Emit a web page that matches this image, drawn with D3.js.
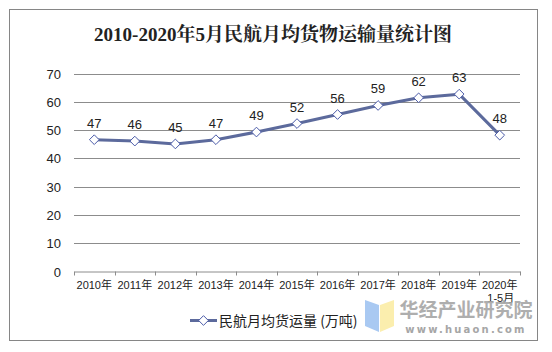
<!DOCTYPE html>
<html><head><meta charset="utf-8">
<script src="https://cdn.jsdelivr.net/npm/d3@7/dist/d3.min.js"></script>
<style>body{margin:0;background:#fff}svg{display:block}</style>
</head><body>
<script>
const categories = ["2010年","2011年","2012年","2013年","2014年","2015年","2016年","2017年","2018年","2019年","2020年\n1-5月"];
const values = [46.6, 46.1, 45.1, 46.6, 49.3, 52.3, 55.5, 58.7, 61.4, 62.7, 48.2];
const labels = ["47","46","45","47","49","52","56","59","62","63","48"];
const yTicks = [0,10,20,30,40,50,60,70];
const title = "2010-2020年5月民航月均货物运输量统计图";
const seriesName = "民航月均货运量 (万吨)";

const W = 552, H = 352;
const svg = d3.select("body").append("svg").attr("width", W).attr("height", H);
svg.append("rect").attr("x", 9.5).attr("y", 9.5).attr("width", 528).attr("height", 331)
  .attr("fill", "#fff").attr("stroke", "#868686").attr("stroke-width", 1);

svg.append("text").attr("x", 273).attr("y", 41).attr("text-anchor", "middle")
  .attr("font-family", "'Liberation Serif','Noto Serif CJK SC','Noto Sans CJK SC',serif")
  .attr("font-weight", "bold").attr("font-size", 19).attr("fill", "#222").text(title);

const x = d3.scaleBand().domain(categories).range([74, 520]);
const y = d3.scaleLinear().domain([0, 70]).range([271.5, 73.5]);

const g = svg.append("g");
g.selectAll("line.grid").data(yTicks.slice(1)).join("line")
  .attr("x1", 74).attr("x2", 520).attr("y1", d => Math.round(y(d)) + 0.5).attr("y2", d => Math.round(y(d)) + 0.5)
  .attr("stroke", "#8c8c8c").attr("stroke-width", 1);

g.selectAll("text.yt").data(yTicks).join("text")
  .attr("x", 61).attr("y", d => y(d) + 5).attr("text-anchor", "end")
  .attr("font-family", "'Liberation Sans',Arial,sans-serif").attr("font-size", 13).attr("fill", "#222").text(d => d);

// x axis
const ax = svg.append("g").attr("transform", "translate(0,271.5)")
  .call(d3.axisBottom(x).tickSize(0).tickFormat(""));
ax.select(".domain").attr("stroke", "#8c8c8c");
const bounds = [x.range()[0], ...categories.map(c => x(c) + x.bandwidth())];
ax.selectAll("line.tk").data(bounds).join("line").attr("class", "tk")
  .attr("x1", d => Math.round(d) + 0.5).attr("x2", d => Math.round(d) + 0.5).attr("y1", 0).attr("y2", 4)
  .attr("stroke", "#8c8c8c");

categories.forEach(c => {
  const lines = c.split("\n");
  lines.forEach((ln, i) => {
    svg.append("text").attr("x", x(c) + x.bandwidth() / 2 + (i ? 1 : 0)).attr("y", 289 + i * 13)
      .attr("text-anchor", "middle")
      .attr("font-family", "'Liberation Sans','Noto Sans CJK SC',sans-serif").attr("font-size", 11)
      .attr("fill", "#222").text(ln);
  });
});

const cx = c => x(c) + x.bandwidth() / 2;
const line = d3.line().x((d, i) => cx(categories[i])).y(d => y(d));
svg.append("path").datum(values).attr("d", line).attr("fill", "none")
  .attr("stroke", "#5c6a9c").attr("stroke-width", 3).attr("stroke-linejoin", "round");

const diamond = d3.symbol().type(d3.symbolDiamond2).size(60);
svg.selectAll("path.pt").data(values).join("path").attr("class", "pt")
  .attr("d", diamond).attr("transform", (d, i) => `translate(${cx(categories[i])},${y(d)})`)
  .attr("fill", "#fff").attr("stroke", "#4a5aa8").attr("stroke-width", 1);

svg.selectAll("text.lbl").data(values).join("text").attr("class", "lbl")
  .attr("x", (d, i) => cx(categories[i])).attr("y", d => y(d) - 12)
  .attr("text-anchor", "middle").attr("font-family", "'Liberation Sans',Arial,sans-serif")
  .attr("font-size", 13).attr("fill", "#222").text((d, i) => labels[i]);

// legend
svg.append("line").attr("x1", 190).attr("x2", 217).attr("y1", 320.5).attr("y2", 320.5)
  .attr("stroke", "#5c6a9c").attr("stroke-width", 3);
svg.append("path").attr("d", diamond).attr("transform", "translate(203.5,320.5)")
  .attr("fill", "#fff").attr("stroke", "#4a5aa8");
svg.append("text").attr("x", 219).attr("y", 326).attr("font-family", "'Noto Sans CJK SC',sans-serif")
  .attr("font-size", 14).attr("fill", "#222").text(seriesName);

// watermark
const wm = svg.append("g");
wm.append("path").attr("d", "M365,300 L379,305 L379,332 L365,326 Z").attr("fill", "#a9c9f2");
wm.append("path").attr("d", "M380,305 L394,300 L394,326 L380,332 Z").attr("fill", "#fbeeae");
wm.append("text").attr("x", 466).attr("y", 317).attr("text-anchor", "middle")
  .attr("font-family", "'Noto Sans CJK SC',sans-serif").attr("font-weight", "bold")
  .attr("font-size", 19).attr("fill", "#a6a6a6").attr("opacity", 0.9).text("华经产业研究院");
wm.append("text").attr("x", 466).attr("y", 333).attr("text-anchor", "middle")
  .attr("font-family", "'DejaVu Sans',sans-serif").attr("font-weight", "bold")
  .attr("font-size", 10).attr("letter-spacing", 2.2).attr("fill", "#a6a6a6").text("www.huaon.com");
</script>
</body></html>
